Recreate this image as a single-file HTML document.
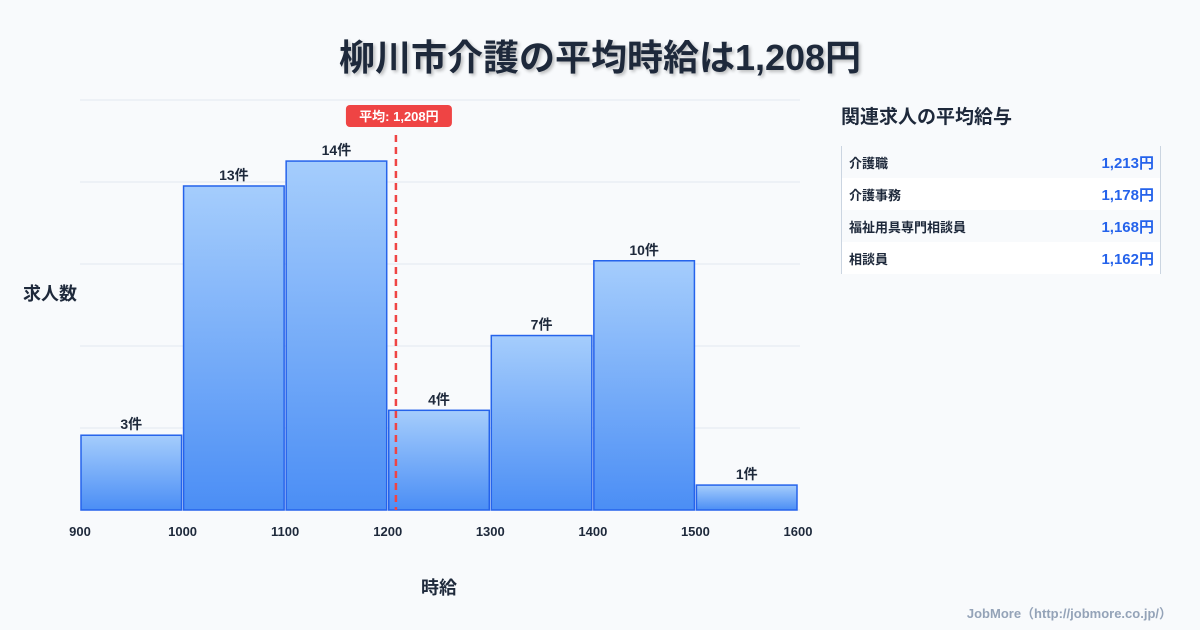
<!DOCTYPE html>
<html><head><meta charset="utf-8"><style>
body{margin:0;width:1200px;height:630px;background:#f8fafc;font-family:"Liberation Sans","Noto Sans CJK JP",sans-serif;overflow:hidden;position:relative}
.t{position:absolute}
</style></head><body>
<div class="t" style="left:0;top:29px;width:1200px;text-align:center;font-size:36px;font-weight:bold;color:#1e293b;text-shadow:2px 2px 3px rgba(0,0,0,0.25)">柳川市介護の平均時給は1,208円</div>
<svg class="t" style="left:0;top:0" width="1200" height="630">
<defs><linearGradient id="g" x1="0" y1="0" x2="0" y2="1"><stop offset="0" stop-color="#a5cdfc"/><stop offset="1" stop-color="#4b8ef5"/></linearGradient></defs>
<g id="grid"></g><g id="bars"></g><g id="xt"></g><g id="mean"></g>
<text x="50" y="300" text-anchor="middle" font-size="18" font-weight="bold" fill="#1e293b">求人数</text>
<text x="439" y="594" text-anchor="middle" font-size="18" font-weight="bold" fill="#1e293b">時給</text>
</svg>
<div class="t" style="left:841px;top:102px;font-size:19px;font-weight:bold;color:#1e293b">関連求人の平均給与</div>
<div class="t" style="left:841px;top:146px;width:318px;border-left:1px solid #cbd5e1;border-right:1px solid #cbd5e1">
<div style="height:32px;display:flex;justify-content:space-between;align-items:center;padding:0 6px 0 7px;background:#f8fafc;font-size:13px;font-weight:bold;color:#1e293b"><span>介護職</span><span style="color:#2563eb;font-size:15px">1,213円</span></div>
<div style="height:32px;display:flex;justify-content:space-between;align-items:center;padding:0 6px 0 7px;background:#fff;font-size:13px;font-weight:bold;color:#1e293b"><span>介護事務</span><span style="color:#2563eb;font-size:15px">1,178円</span></div>
<div style="height:32px;display:flex;justify-content:space-between;align-items:center;padding:0 6px 0 7px;background:#f8fafc;font-size:13px;font-weight:bold;color:#1e293b"><span>福祉用具専門相談員</span><span style="color:#2563eb;font-size:15px">1,168円</span></div>
<div style="height:32px;display:flex;justify-content:space-between;align-items:center;padding:0 6px 0 7px;background:#fff;font-size:13px;font-weight:bold;color:#1e293b"><span>相談員</span><span style="color:#2563eb;font-size:15px">1,162円</span></div>
</div>
<div class="t" style="right:28px;top:603px;font-size:13px;font-weight:bold;color:#94a3b8">JobMore（http://jobmore.co.jp/）</div>
<script>
const binStarts=[900,1000,1100,1200,1300,1400,1500];
const counts=[3,13,14,4,7,10,1];
const xTicks=[900,1000,1100,1200,1300,1400,1500,1600];
const meanValue=1208;
const meanLabel="平均: 1,208円";
const NS="http://www.w3.org/2000/svg";
const X0=80,X1=798,XMIN=900,XMAX=1600,Y0=510,YTOP=100,YMAX=16.45;
const x=v=>X0+(v-XMIN)/(XMAX-XMIN)*(X1-X0);
const y=v=>Y0-v/YMAX*(Y0-YTOP);
function mk(t,a,p){const e=document.createElementNS(NS,t);for(const k in a)e.setAttribute(k,a[k]);document.getElementById(p).appendChild(e);return e;}
for(let i=0;i<=5;i++){const gy=YTOP+i*(Y0-YTOP)/5;const l=mk('line',{x1:X0,x2:800,y1:gy,y2:gy,stroke:'#e2e8f0','stroke-width':1},'grid');

}
binStarts.forEach((b,i)=>{const xa=x(b)+1,xb=x(b+100)-1;
const r=mk('rect',{x:xa,y:y(counts[i]),width:xb-xa,height:Y0-y(counts[i]),fill:'url(#g)',stroke:'#2563eb','stroke-width':1.5},'bars');


const t=mk('text',{x:(xa+xb)/2,y:y(counts[i])-6,'text-anchor':'middle','font-size':14,'font-weight':'bold',fill:'#1e293b'},'bars');t.textContent=counts[i]+'件';

});
xTicks.forEach(v=>{const t=mk('text',{x:x(v),y:536,'text-anchor':'middle','font-size':13,'font-weight':'bold',fill:'#1e293b'},'xt');t.textContent=v;

});
const mx=x(meanValue);
const ml=mk('line',{x1:mx,x2:mx,y1:135,y2:Y0,stroke:'#ef4444','stroke-width':2.5,'stroke-dasharray':'7,5'},'mean');


const mr=mk('rect',{x:mx-50,y:105,width:106,height:22,rx:4,fill:'#ef4444'},'mean');


const mt=mk('text',{x:mx+3,y:121,'text-anchor':'middle','font-size':13,'font-weight':'bold',fill:'#fff'},'mean');mt.textContent=meanLabel;


</script>
</body></html>
